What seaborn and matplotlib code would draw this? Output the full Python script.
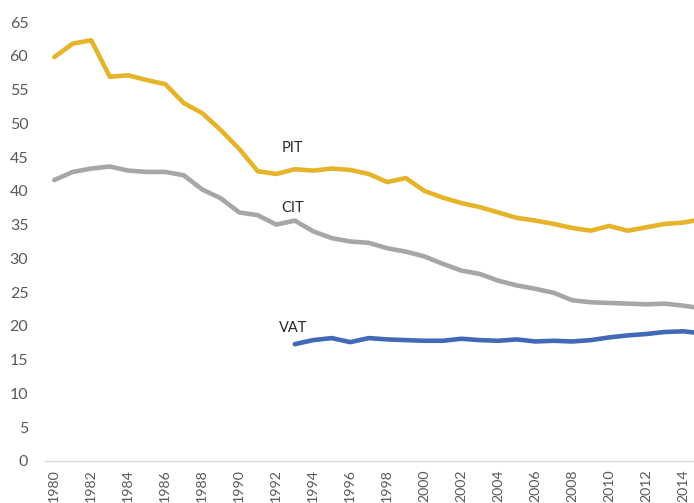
import numpy as np
import pandas as pd
import matplotlib
matplotlib.use("Agg")
import matplotlib.pyplot as plt
import seaborn as sns

years = list(range(1980, 2016))
pit = [59.8, 61.8, 62.3, 56.9, 57.1, 56.4, 55.8, 53.0, 51.5, 49.0,
       46.2, 42.9, 42.5, 43.2, 43.0, 43.3, 43.1, 42.5, 41.3, 41.9,
       40.0, 39.0, 38.2, 37.6, 36.8, 36.0, 35.6, 35.1, 34.5, 34.1,
       34.8, 34.1, 34.6, 35.1, 35.3, 35.8]
cit = [41.6, 42.8, 43.3, 43.6, 43.0, 42.8, 42.8, 42.3, 40.2, 38.9,
       36.8, 36.4, 35.0, 35.6, 34.0, 33.0, 32.5, 32.3, 31.5, 31.0,
       30.3, 29.2, 28.2, 27.7, 26.7, 26.0, 25.5, 24.9, 23.8, 23.5,
       23.4, 23.3, 23.2, 23.3, 23.0, 22.6]
vat_years = list(range(1993, 2016))
vat = [17.3, 17.9, 18.2, 17.6, 18.2, 18.0, 17.9, 17.8, 17.8, 18.1,
       17.9, 17.8, 18.0, 17.7, 17.8, 17.7, 17.9, 18.3, 18.6, 18.8,
       19.1, 19.2, 18.9]
series_names = ["PIT", "CIT", "VAT"]
x_tick_labels = list(range(1980, 2016, 2))
y_ticks = list(range(0, 70, 5))

df = pd.concat([
    pd.DataFrame({"year": years, "value": pit, "tax": "PIT"}),
    pd.DataFrame({"year": years, "value": cit, "tax": "CIT"}),
    pd.DataFrame({"year": vat_years, "value": vat, "tax": "VAT"}),
], ignore_index=True)

sns.set_style("white")
plt.rcParams["font.family"] = ["Lato", "DejaVu Sans"]

W, H = 694, 503
fig = plt.figure(figsize=(W / 100, H / 100), dpi=100)
left_px, bottom_px, top_px = 45, 461, 22
px_per_year = 18.5
width_px = px_per_year * 36
ax = fig.add_axes([left_px / W, (H - bottom_px) / H, width_px / W, (bottom_px - top_px) / H])

palette = {"PIT": "#E5B42A", "CIT": "#A6A6A6", "VAT": "#4169B8"}
sns.lineplot(data=df, x="year", y="value", hue="tax", palette=palette,
             linewidth=3.3, legend=False, ax=ax)
for line in ax.get_lines():
    line.set_solid_capstyle("round")
    line.set_solid_joinstyle("round")

ax.set_xlim(1979.5, 2015.5)
ax.set_ylim(0, 65)
ax.set_xticks(x_tick_labels)
ax.set_xticklabels([str(y) for y in x_tick_labels], rotation=90)
ax.set_yticks(y_ticks)
ax.set_xlabel("")
ax.set_ylabel("")
ax.tick_params(axis="x", length=0, pad=6, labelsize=10.2, labelcolor="#595959")
ax.tick_params(axis="y", length=0, pad=12, labelsize=11.5, labelcolor="#595959")
for s in ["top", "right", "left"]:
    ax.spines[s].set_visible(False)
ax.spines["bottom"].set_color("#D9D9D9")
ax.spines["bottom"].set_linewidth(1.0)

label_pos = {"PIT": (1992.9, 46.4), "CIT": (1992.9, 37.5), "VAT": (1992.9, 19.7)}
for name in series_names:
    x, y = label_pos[name]
    ax.text(x, y, name, ha="center", va="center", fontsize=10.5, color="#262626")

fig.savefig("out.png", dpi=100)
